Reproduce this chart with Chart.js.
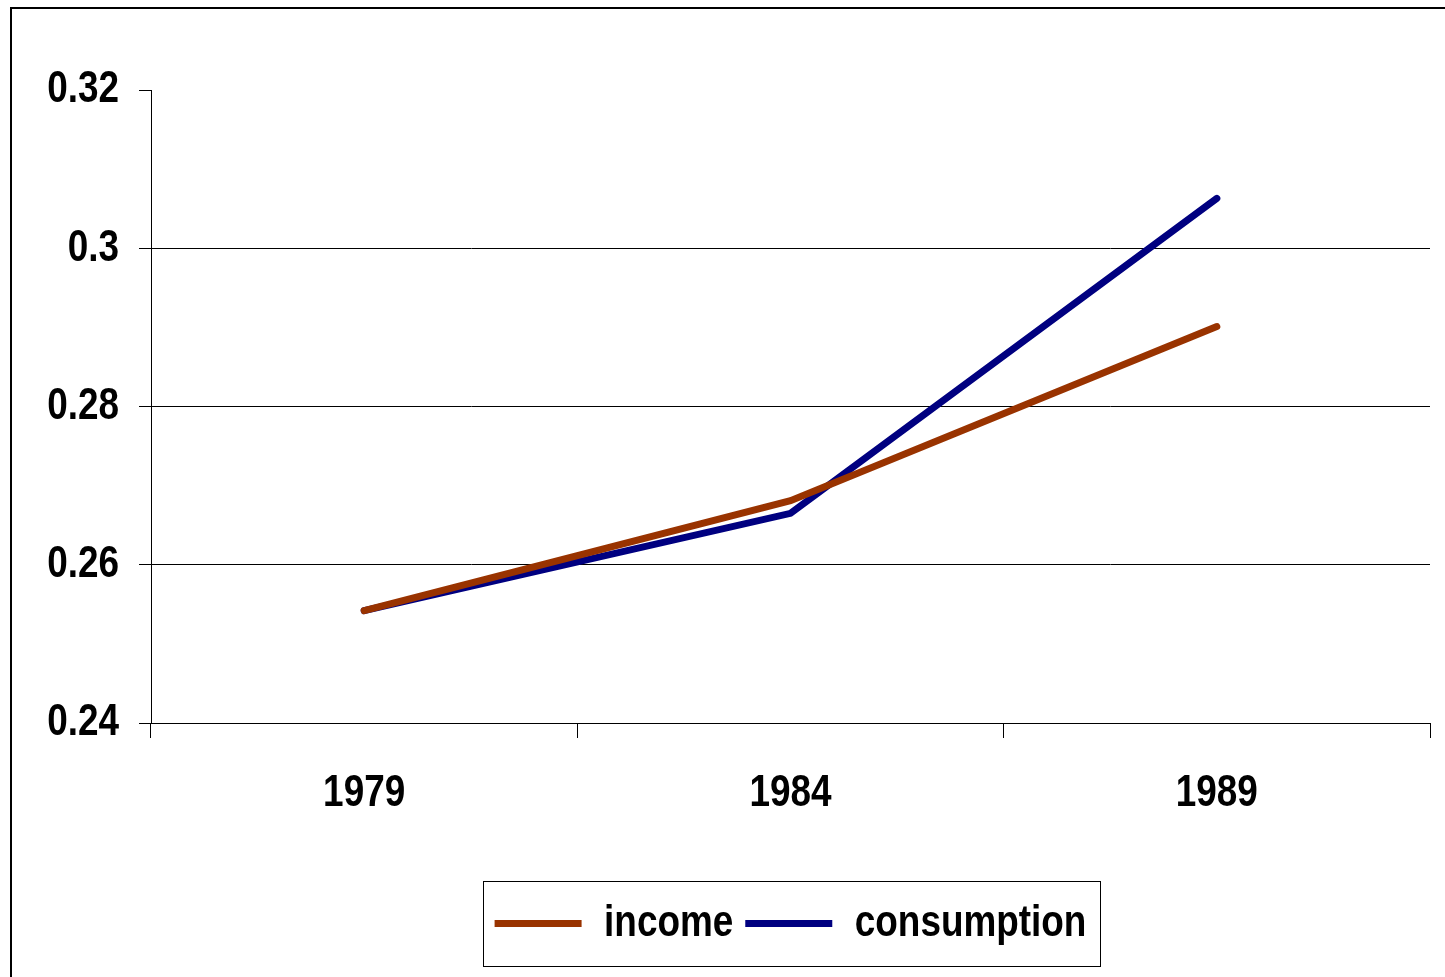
<!DOCTYPE html>
<html>
<head>
<meta charset="utf-8">
<script src="https://cdn.jsdelivr.net/npm/chart.js@4/dist/chart.umd.min.js"></script>
<style>
  html, body { margin: 0; padding: 0; background: #fff; overflow: hidden; }
  #frame { position: absolute; left: 10px; top: 7px; width: 1500px; height: 1100px; border: 2px solid #000; box-sizing: border-box; }
  #wrap { position: absolute; left: 0; top: 0; width: 1445px; height: 977px; }
</style>
</head>
<body>
<div id="frame"></div>
<div id="wrap"><canvas id="c" width="1445" height="977"></canvas></div>
<script>
const categories = ['1979', '1984', '1989'];
const income = [0.2542, 0.2681, 0.2901];
const consumption = [0.2542, 0.2665, 0.3063];
const yMin = 0.24, yMax = 0.32, yStep = 0.02;

const FONT = "'Liberation Sans', Arial, sans-serif";
const NARROW = 0.82; // emulate a narrow (condensed) face

const canvas = document.getElementById('c');
const c2d = canvas.getContext('2d');
const origFill = c2d.fillText.bind(c2d);
const origMeasure = c2d.measureText.bind(c2d);
c2d.measureText = function (t) {
  const m = origMeasure(t);
  return {
    width: m.width * NARROW,
    actualBoundingBoxAscent: m.actualBoundingBoxAscent,
    actualBoundingBoxDescent: m.actualBoundingBoxDescent,
    actualBoundingBoxLeft: m.actualBoundingBoxLeft * NARROW,
    actualBoundingBoxRight: m.actualBoundingBoxRight * NARROW
  };
};
c2d.fillText = function (t, x, y, mw) {
  const w = origMeasure(t).width * NARROW;
  origFill(t, x, y, mw !== undefined ? Math.min(mw, w) : w);
};

const legendBox = {
  id: 'legendBox',
  afterDraw(chart) {
    const hb = chart.legend.legendHitBoxes;
    if (!hb || !hb.length) return;
    let l = Infinity, r = -Infinity, t = Infinity, b = -Infinity;
    hb.forEach(h => { l = Math.min(l, h.left); r = Math.max(r, h.left + h.width); t = Math.min(t, h.top); b = Math.max(b, h.top + h.height); });
    const ctx = chart.ctx;
    ctx.save();
    ctx.strokeStyle = '#000';
    ctx.lineWidth = 1;
    ctx.strokeRect(Math.round(l - 12) + 0.5, Math.round(t - 20) + 0.5, Math.round(r - l + 25), Math.round(b - t + 40));
    ctx.restore();
  }
};

new Chart(canvas, {
  type: 'line',
  data: {
    labels: categories,
    datasets: [
      { label: 'income', data: income, borderColor: '#993300', backgroundColor: '#993300', borderWidth: 7, borderCapStyle: 'round', borderJoinStyle: 'miter', pointRadius: 0, tension: 0, fill: false },
      { label: 'consumption', data: consumption, borderColor: '#000080', backgroundColor: '#000080', borderWidth: 7, borderCapStyle: 'round', borderJoinStyle: 'miter', pointRadius: 0, tension: 0, fill: false }
    ]
  },
  options: {
    responsive: false,
    animation: false,
    events: [],
    layout: { padding: { top: 90, right: 15, bottom: 21, left: 0 } },
    plugins: {
      tooltip: { enabled: false },
      title: { display: false },
      legend: {
        position: 'bottom',
        align: 'center',
        fullSize: false,
        labels: {
          usePointStyle: true,
          pointStyle: 'line',
          pointStyleWidth: 87,
          boxHeight: 6,
          padding: 12,
          color: '#000',
          font: { family: FONT, size: 45, weight: 'bold' }
        }
      }
    },
    scales: {
      x: {
        type: 'category',
        offset: true,
        afterFit(scale) { scale.height += 39; },
        grid: { offset: true, drawOnChartArea: false, drawTicks: true, tickLength: 15, color: '#000', lineWidth: 1 },
        border: { display: true, color: '#000', width: 1 },
        ticks: { color: '#000', padding: 29, font: { family: FONT, size: 45, weight: 'bold' } }
      },
      y: {
        min: yMin, max: yMax,
        afterFit(scale) { scale.width = 151; },
        grid: {
          drawTicks: true, tickLength: 12, lineWidth: 1,
          color: ctx => (ctx.tick && Math.abs(ctx.tick.value - yMax) < 1e-9) ? 'rgba(0,0,0,0)' : '#000',
          tickColor: '#000'
        },
        border: { display: true, color: '#000', width: 1 },
        ticks: {
          stepSize: yStep, color: '#000', padding: 20,
          font: { family: FONT, size: 45, weight: 'bold' },
          callback: v => String(Math.round(v * 100) / 100)
        }
      }
    }
  },
  plugins: [legendBox]
});
</script>
</body>
</html>
